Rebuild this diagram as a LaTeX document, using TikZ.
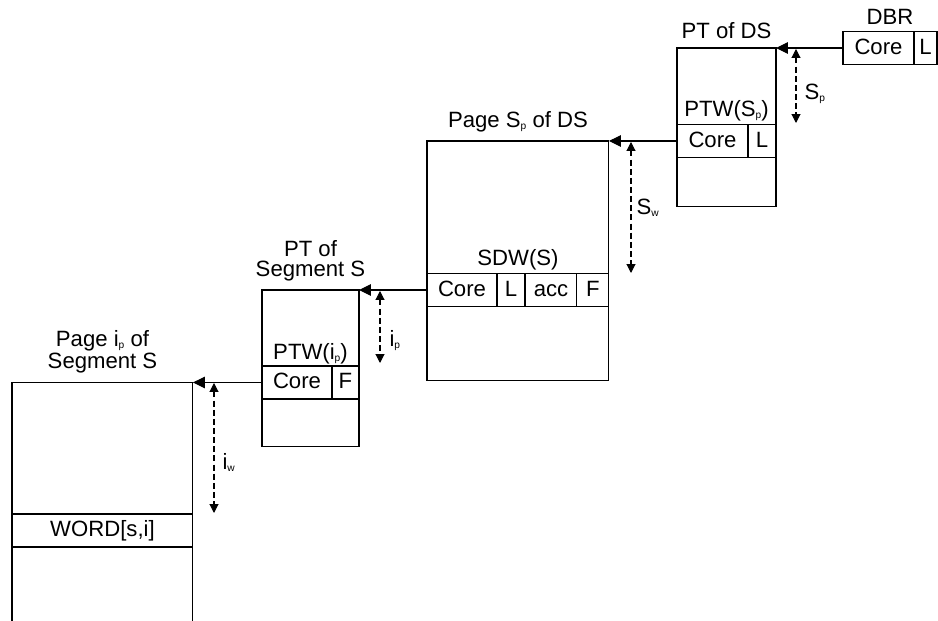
\documentclass[tikz,border=0pt]{standalone}
\usepackage{fontspec}
\setmainfont{Liberation Sans}
\usetikzlibrary{arrows.meta, positioning}
\newcommand{\lowsub}[1]{\raisebox{-0.15ex}{\fontsize{5.8}{6}\selectfont #1}}

\begin{document}
\begin{tikzpicture}[
    x=0.02cm, y=-0.02cm,
    line width=0.6pt,
    font=\fontsize{12.6}{11.4}\selectfont,
    frame/.style={draw, inner sep=0pt, outer sep=0pt, anchor=north west},
    cell/.style={draw, inner sep=0pt, outer sep=0pt, minimum height=0.66cm,
                 text height=9pt, text depth=1.6pt},
    title/.style={inner sep=0pt, anchor=base, align=center},
    link/.style={-{Triangle[length=6.8pt, width=6.6pt]}},
    offset/.style={{Triangle[length=5pt, width=5pt]}-{Triangle[length=5pt, width=5pt]},
                   dash pattern=on 3.4pt off 1.8pt},
    idx/.style={inner sep=0pt, anchor=base west},
]
\useasboundingbox (0,0) rectangle (938,621);

% DBR
\node[cell, minimum width=1.42cm, anchor=west] (dbr-core) at (843,48) {Core};
\node[cell, minimum width=0.46cm, right=0pt of dbr-core] (dbr-l) {L};
\node[title] (dbr-title) at (890,25) {DBR};

% PT of DS
\node[frame, minimum width=1.98cm, minimum height=3.18cm] (ptds) at (677,48) {};
\node[title] (ptds-title) at (726.5,39) {PT of DS};
\node[cell, minimum width=1.42cm, anchor=west] (ptws-core) at (677,141) {Core};
\node[cell, minimum width=0.56cm, right=0pt of ptws-core] (ptws-l) {L};
\node[title] (ptws-title) at (726.5,117) {PTW(S\lowsub{p})};

% Page S_p of DS
\node[frame, minimum width=3.64cm, minimum height=4.8cm] (pageds) at (427,141) {};
\node[title] (pageds-title) at (518,128) {Page S\lowsub{p} of DS};
\node[cell, minimum width=1.40cm, anchor=west] (sdw-core) at (427,290) {Core};
\node[cell, minimum width=0.56cm, right=0pt of sdw-core] (sdw-l) {L};
\node[cell, minimum width=1.04cm, right=0pt of sdw-l] (sdw-acc) {acc};
\node[cell, minimum width=0.64cm, right=0pt of sdw-acc] (sdw-f) {F};
\node[title] (sdw-title) at (518,266) {SDW(S)};

% PT of Segment S
\node[frame, minimum width=1.94cm, minimum height=3.14cm] (ptseg) at (262,290) {};
\node[title, anchor=south] (ptseg-title) at (310.5,282) {PT of\\Segment S};
\node[cell, minimum width=1.40cm, anchor=west] (ptwi-core) at (262,382.5) {Core};
\node[cell, minimum width=0.54cm, right=0pt of ptwi-core] (ptwi-f) {F};
\node[title] (ptwi-title) at (310.5,360) {PTW(i\lowsub{p})};

% Page i_p of Segment S
\node[frame, minimum width=3.62cm, minimum height=5.2cm] (pageseg) at (12,382.5) {};
\node[title, anchor=south] (pageseg-title) at (102.5,373.5) {Page i\lowsub{p} of\\Segment S};
\node[cell, minimum width=3.62cm, anchor=north west] (word) at (12,514) {WORD[s,i]};

% Links
\draw[link] (dbr-core.west) -- (ptds.north east);
\draw[link] (ptws-core.west) -- (pageds.north east);
\draw[link] (sdw-core.west) -- (ptseg.north east);
\draw[link] (ptwi-core.west) -- (pageseg.north east);

% Offsets
\coordinate (sp-top) at (796,49);
\coordinate (sp-bot) at (796,123);
\draw[offset] (sp-top) -- (sp-bot);
\node[idx] (sp-label) at (804,100) {S\lowsub{p}};

\coordinate (sw-top) at (631,142);
\coordinate (sw-bot) at (631,273);
\draw[offset] (sw-top) -- (sw-bot);
\node[idx] (sw-label) at (636,215) {S\lowsub{w}};

\coordinate (ip-top) at (380,291);
\coordinate (ip-bot) at (380,363);
\draw[offset] (ip-top) -- (ip-bot);
\node[idx] (ip-label) at (389,347) {i\lowsub{p}};

\coordinate (iw-top) at (214,383);
\coordinate (iw-bot) at (214,513);
\draw[offset] (iw-top) -- (iw-bot);
\node[idx] (iw-label) at (222,470) {i\lowsub{w}};
\end{tikzpicture}
\end{document}
